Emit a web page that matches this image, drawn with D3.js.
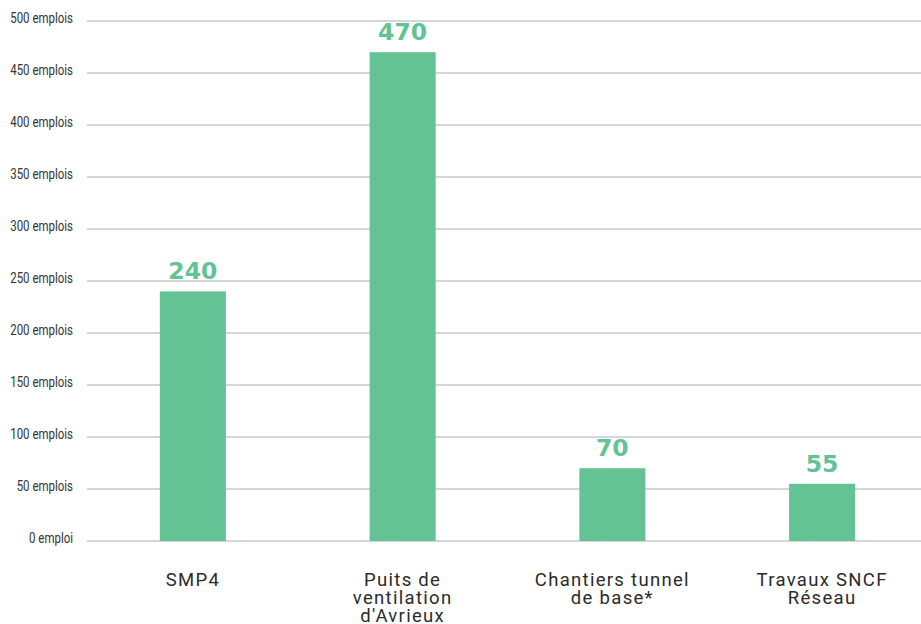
<!DOCTYPE html>
<html>
<head>
<meta charset="utf-8">
<script src="https://cdn.jsdelivr.net/npm/d3@7"></script>
<style>
  body { margin: 0; background: #fff; }
  #chart { width: 921px; height: 624px; }
</style>
</head>
<body>
<div id="chart"></div>
<script>
const categories = ['SMP4', "Puits de\nventilation\nd'Avrieux", 'Chantiers tunnel\nde base*', 'Travaux SNCF\nRéseau'];
const values = [240, 470, 70, 55];
const tickValues = [0, 50, 100, 150, 200, 250, 300, 350, 400, 450, 500];
const tickLabels = ['0 emploi', '50 emplois', '100 emplois', '150 emplois', '200 emplois', '250 emplois',
  '300 emplois', '350 emplois', '400 emplois', '450 emplois', '500 emplois'];

const width = 921;
const height = 624;
const green = '#63c394';

const svg = d3.select('#chart')
  .append('svg')
  .attr('width', width)
  .attr('height', height)
  .attr('viewBox', `0 0 ${width} ${height}`);

const x = d3.scaleBand()
  .domain(categories)
  .range([88, 927])
  .paddingInner(0.685)
  .paddingOuter(0.3425);

const y = d3.scaleLinear()
  .domain([0, 500])
  .range([541, 21]);

// gridlines
svg.append('g')
  .selectAll('line')
  .data(tickValues)
  .join('line')
  .attr('x1', 87)
  .attr('x2', width)
  .attr('y1', d => y(d))
  .attr('y2', d => y(d))
  .attr('stroke', '#c8c8c8')
  .attr('stroke-width', 1.3);

// y labels, squeezed horizontally to look condensed
svg.append('g')
  .selectAll('text')
  .data(tickValues)
  .join('text')
  .attr('transform', d => `translate(73,${y(d) + 1.5}) scale(0.74,1)`)
  .attr('text-anchor', 'end')
  .attr('font-family', 'Roboto, sans-serif')
  .attr('font-size', 15.5)
  .attr('fill', '#333')
  .text((d, i) => tickLabels[i]);

// bars
svg.append('g')
  .selectAll('rect')
  .data(values)
  .join('rect')
  .attr('x', (d, i) => x(categories[i]))
  .attr('y', d => y(d))
  .attr('width', x.bandwidth())
  .attr('height', d => y(0) - y(d))
  .attr('fill', green);

// value labels
svg.append('g')
  .selectAll('text')
  .data(values)
  .join('text')
  .attr('x', (d, i) => x(categories[i]) + x.bandwidth() / 2)
  .attr('y', d => y(d) - 12)
  .attr('text-anchor', 'middle')
  .attr('font-family', '"DejaVu Sans", sans-serif')
  .attr('font-weight', 'bold')
  .attr('font-size', 23.5)
  .attr('fill', green)
  .text(d => d);

// category labels
const cat = svg.append('g')
  .selectAll('text')
  .data(categories)
  .join('text')
  .attr('x', d => x(d) + x.bandwidth() / 2)
  .attr('y', 586)
  .attr('text-anchor', 'middle')
  .attr('font-family', 'Roboto, sans-serif')
  .attr('font-size', 18.5)
  .attr('letter-spacing', 1.3)
  .attr('fill', '#2b2b2b');

cat.selectAll('tspan')
  .data(d => d.split('\n'))
  .join('tspan')
  .attr('x', function () { return d3.select(this.parentNode).attr('x'); })
  .attr('dy', (d, i) => (i === 0 ? 0 : 18))
  .text(d => d);
</script>
</body>
</html>
